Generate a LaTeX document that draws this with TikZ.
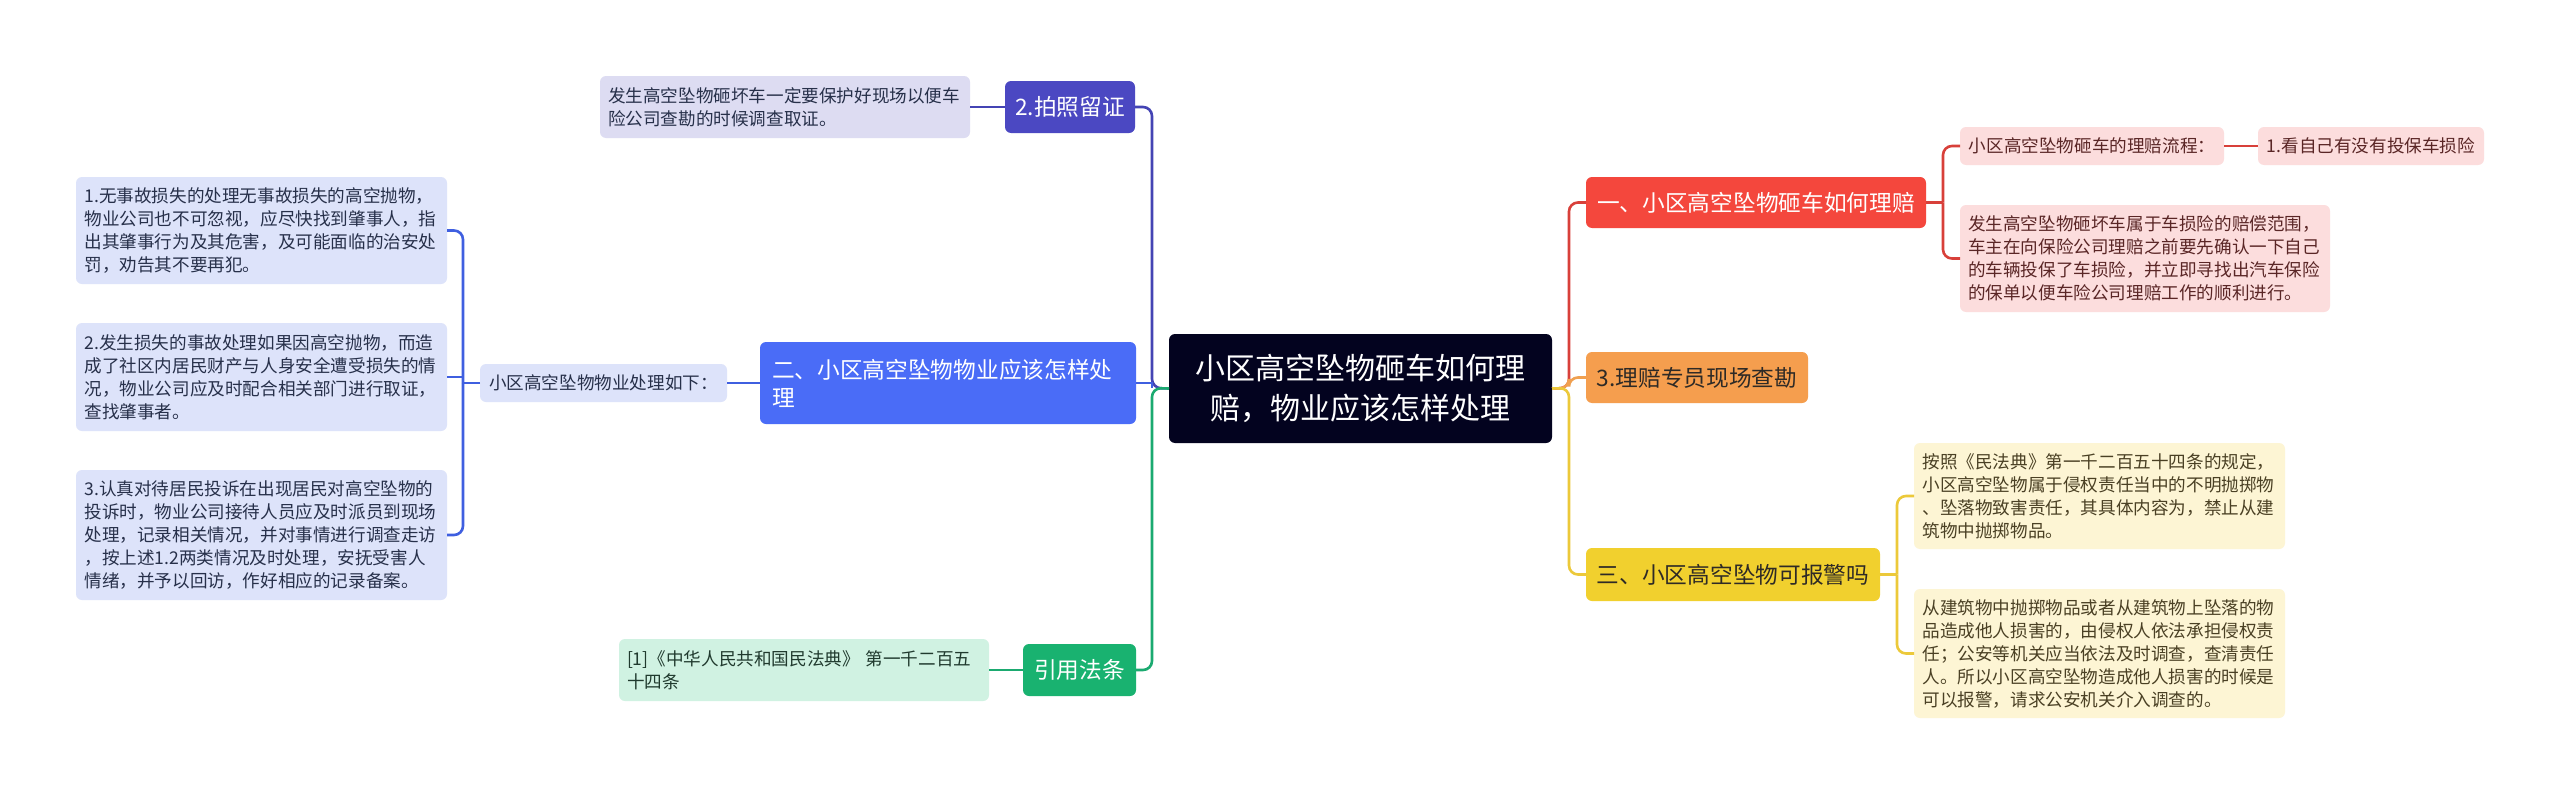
\documentclass[tikz,border=0pt]{standalone}
\usepackage{fontspec}
\setmainfont{Noto Sans CJK SC}
\definecolor{cnavy}{HTML}{03031F}
\definecolor{cindigo}{HTML}{4B48C2}
\definecolor{lindigo}{HTML}{4444B4}
\definecolor{fillindigo}{HTML}{DDDCF2}
\definecolor{cblue}{HTML}{4A6CF7}
\definecolor{lblue}{HTML}{3F5FE0}
\definecolor{fillblue}{HTML}{DDE3FA}
\definecolor{cgreen}{HTML}{19B270}
\definecolor{lgreen}{HTML}{1BAA70}
\definecolor{fillgreen}{HTML}{D0F2E2}
\definecolor{cred}{HTML}{F4473D}
\definecolor{lred}{HTML}{D8403A}
\definecolor{fillred}{HTML}{FCDDDD}
\definecolor{corange}{HTML}{F59E4E}
\definecolor{lorange}{HTML}{F0A050}
\definecolor{cyellow}{HTML}{F1D02E}
\definecolor{lyellow}{HTML}{ECC93A}
\definecolor{fillyellow}{HTML}{FDF5D4}
\definecolor{tblue}{HTML}{27304A}
\definecolor{tred}{HTML}{5A2626}
\definecolor{tyellow}{HTML}{4A4024}
\definecolor{tgreen}{HTML}{203A2E}
\definecolor{tdark}{HTML}{2E2A26}
\begin{document}
\begin{tikzpicture}[x=1pt,y=-1pt,
  every node/.style={inner sep=0pt, outer sep=0pt},
  base/.style={rounded corners=6pt},
  leaf/.style={base, align=left, font=\fontsize{17.6}{23}\selectfont},
  small/.style={base, align=center, font=\fontsize{17.6}{23}\selectfont},
  main/.style={base, align=center, font=\fontsize{22.7}{28}\selectfont},
  conn/.style={line width=2.6pt, rounded corners=9pt},
]
\useasboundingbox (0,0) rectangle (2560,795);
\fill[white] (0,0) rectangle (2560,795);

% center
\node[base, fill=cnavy, text=white, align=center, font=\fontsize{30}{40}\selectfont,
  minimum width=383pt, minimum height=109pt] (c) at (1360.5,388.5)
  {小区高空坠物砸车如何理\\赔，物业应该怎样处理};
\coordinate (cl) at (1152,388);
\coordinate (cr) at (1569,388);

% left: 2.拍照留证
\node[main, fill=cindigo, text=white, minimum width=130pt, minimum height=52pt] (photo) at (1070,107) {2.拍照留证};
\node[leaf, fill=fillindigo, text=tblue, minimum width=370pt, minimum height=62pt, text width=354pt] (photoleaf) at (785,107)
  {发生高空坠物砸坏车一定要保护好现场以便车\\险公司查勘的时候调查取证。};

% left: 二
\node[main, fill=cblue, text=white, align=left, minimum width=376pt, minimum height=82pt, text width=352pt] (two) at (948,383)
  {二、小区高空坠物物业应该怎样处\\理};
\node[small, fill=fillblue, text=tblue, minimum width=247pt, minimum height=38pt] (mid) at (603.5,383) {小区高空坠物物业处理如下：};
\node[leaf, fill=fillblue, text=tblue, minimum width=371pt, minimum height=107pt, text width=354pt] (l1) at (261.5,230.5)
  {1.无事故损失的处理无事故损失的高空抛物，\\物业公司也不可忽视，应尽快找到肇事人，指\\出其肇事行为及其危害，及可能面临的治安处\\罚，劝告其不要再犯。};
\node[leaf, fill=fillblue, text=tblue, minimum width=371pt, minimum height=108pt, text width=354pt] (l2) at (261.5,377)
  {2.发生损失的事故处理如果因高空抛物，而造\\成了社区内居民财产与人身安全遭受损失的情\\况，物业公司应及时配合相关部门进行取证，\\查找肇事者。};
\node[leaf, fill=fillblue, text=tblue, minimum width=371pt, minimum height=130pt, text width=354pt] (l3) at (261.5,535)
  {3.认真对待居民投诉在出现居民对高空坠物的\\投诉时，物业公司接待人员应及时派员到现场\\处理，记录相关情况，并对事情进行调查走访\\，按上述1.2两类情况及时处理，安抚受害人\\情绪，并予以回访，作好相应的记录备案。};
\coordinate (lb) at (463,383);

% left: 引用法条
\node[main, fill=cgreen, text=white, minimum width=113pt, minimum height=52pt] (cite) at (1079.5,670) {引用法条};
\node[leaf, fill=fillgreen, text=tgreen, minimum width=370pt, minimum height=62pt, text width=354pt] (citeleaf) at (804,670)
  {[1]《中华人民共和国民法典》 第一千二百五\\十四条};

% right: 一
\node[main, fill=cred, text=white, minimum width=340pt, minimum height=51pt] (one) at (1756,202.5) {一、小区高空坠物砸车如何理赔};
\node[small, fill=fillred, text=tred, minimum width=264pt, minimum height=38pt] (p1) at (2092,146) {小区高空坠物砸车的理赔流程：};
\node[small, fill=fillred, text=tred, minimum width=226pt, minimum height=38pt] (p1b) at (2371,146) {1.看自己有没有投保车损险};
\node[leaf, fill=fillred, text=tred, minimum width=370pt, minimum height=107pt, text width=354pt] (p2) at (2145,258.5)
  {发生高空坠物砸坏车属于车损险的赔偿范围，\\车主在向保险公司理赔之前要先确认一下自己\\的车辆投保了车损险，并立即寻找出汽车保险\\的保单以便车险公司理赔工作的顺利进行。};
\coordinate (rb) at (1943,202.5);

% right: 3.理赔专员
\node[main, fill=corange, text=tdark, minimum width=222pt, minimum height=51pt] (three) at (1697,377.5) {3.理赔专员现场查勘};

% right: 三
\node[main, fill=cyellow, text=tdark, minimum width=294pt, minimum height=53pt] (san) at (1733,574.5) {三、小区高空坠物可报警吗};
\node[leaf, fill=fillyellow, text=tyellow, minimum width=371pt, minimum height=106pt, text width=354pt] (y1) at (2099.5,496)
  {按照《民法典》第一千二百五十四条的规定，\\小区高空坠物属于侵权责任当中的不明抛掷物\\、坠落物致害责任，其具体内容为，禁止从建\\筑物中抛掷物品。};
\node[leaf, fill=fillyellow, text=tyellow, minimum width=371pt, minimum height=129pt, text width=354pt] (y2) at (2099.5,653.5)
  {从建筑物中抛掷物品或者从建筑物上坠落的物\\品造成他人损害的，由侵权人依法承担侵权责\\任；公安等机关应当依法及时调查，查清责任\\人。所以小区高空坠物造成他人损害的时候是\\可以报警，请求公安机关介入调查的。};
\coordinate (yb) at (1897,574.5);

% connectors (behind nodes)
\begin{scope}[on background layer/.try]
\end{scope}
\draw[conn, lindigo] (c.west) -- (cl) -- (cl |- photo.east) -- (photo.east);
\draw[conn, lindigo] (photo.west) -- (photoleaf.east);
\draw[line width=2.6pt, lblue] (two.east) -- (cl |- two.east) -- (cl);
\draw[conn, lgreen] (c.west) -- (cl) -- (cl |- cite.east) -- (cite.east);
\draw[conn, lgreen] (cite.west) -- (citeleaf.east);
\draw[line width=2.6pt, lblue] (two.west) -- (mid.east);
\draw[line width=2.6pt, lblue] (mid.west) -- (lb);
\draw[conn, lblue] (lb) -- (lb |- l1.east) -- (l1.east);
\draw[conn, lblue] (lb) -- (lb |- l3.east) -- (l3.east);
\draw[line width=2.6pt, lblue] (lb |- l2.east) -- (l2.east);

\draw[conn, lred] (c.east) -- (cr) -- (cr |- one.west) -- (one.west);
\draw[conn, lorange] (c.east) -- (cr) -- (cr |- three.west) -- (three.west);
\draw[conn, lyellow] (c.east) -- (cr) -- (cr |- san.west) -- (san.west);

\draw[line width=2.6pt, lred] (one.east) -- (rb);
\draw[conn, lred] (rb) -- (rb |- p1.west) -- (p1.west);
\draw[conn, lred] (rb) -- (rb |- p2.west) -- (p2.west);
\draw[line width=2.6pt, lred] (p1.east) -- (p1b.west);

\draw[line width=2.6pt, lyellow] (san.east) -- (yb);
\draw[conn, lyellow] (yb) -- (yb |- y1.west) -- (y1.west);
\draw[conn, lyellow] (yb) -- (yb |- y2.west) -- (y2.west);
\end{tikzpicture}
\end{document}
